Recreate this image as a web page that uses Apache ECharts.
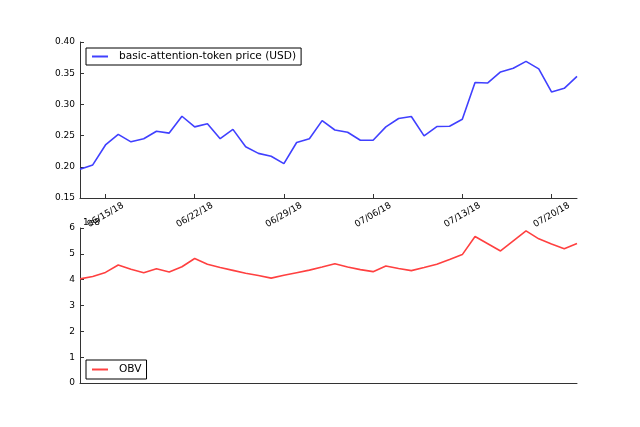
<!DOCTYPE html>
<html>
<head>
<meta charset="utf-8">
<script src="https://cdn.jsdelivr.net/npm/echarts@6/dist/echarts.min.js"></script>
<style>html,body{margin:0;padding:0;background:#fff}#c{width:640px;height:427px}</style>
</head>
<body>
<div id="c"></div>
<script>
var dates = ['06/13/18','06/14/18','06/15/18','06/16/18','06/17/18','06/18/18','06/19/18','06/20/18','06/21/18','06/22/18',
 '06/23/18','06/24/18','06/25/18','06/26/18','06/27/18','06/28/18','06/29/18','06/30/18','07/01/18','07/02/18',
 '07/03/18','07/04/18','07/05/18','07/06/18','07/07/18','07/08/18','07/09/18','07/10/18','07/11/18','07/12/18',
 '07/13/18','07/14/18','07/15/18','07/16/18','07/17/18','07/18/18','07/19/18','07/20/18','07/21/18','07/22/18'];
var price = [0.196,0.203,0.235,0.252,0.240,0.245,0.257,0.254,0.281,0.264,
 0.269,0.245,0.260,0.232,0.2215,0.217,0.205,0.239,0.245,0.274,
 0.259,0.2554,0.2425,0.2425,0.264,0.2774,0.2806,0.2495,0.2645,0.265,
 0.2763,0.335,0.3344,0.352,0.358,0.369,0.357,0.320,0.3258,0.345];
var obv = [4.03,4.12,4.28,4.57,4.40,4.27,4.42,4.30,4.50,4.82,
 4.60,4.47,4.36,4.25,4.16,4.06,4.17,4.27,4.37,4.49,
 4.62,4.49,4.39,4.31,4.53,4.43,4.35,4.47,4.60,4.78,
 4.97,5.67,5.39,5.11,5.50,5.89,5.58,5.38,5.20,5.40];
var priceName = 'basic-attention-token price (USD)';
var obvName = 'OBV';

var FONT = 'DejaVu Sans';
var axisLineStyle = {color:'#333', width:1};
function showTick(i){ return i % 7 === 2; }

var chart = echarts.init(document.getElementById('c'), null, {renderer:'canvas'});
chart.setOption({
  animation:false,
  textStyle:{fontFamily:FONT},
  grid:[
    {left:80, top:42, width:497, height:156},
    {left:80, top:228, width:497, height:155}
  ],
  legend:[
    {data:[priceName], left:86, top:48, orient:'horizontal', icon:'rect', itemWidth:16, itemHeight:2,
     padding:[3,5,3,6], borderColor:'#000', borderWidth:1, backgroundColor:'#fff',
     textStyle:{fontFamily:FONT, fontSize:10.6, color:'#000', padding:[0,0,0,6]}},
    {data:[obvName], left:86, top:360, orient:'horizontal', icon:'rect', itemWidth:16, itemHeight:2,
     padding:[4,5,4,6], borderColor:'#000', borderWidth:1, backgroundColor:'#fff',
     textStyle:{fontFamily:FONT, fontSize:10.6, color:'#000', padding:[0,0,0,6]}}
  ],
  xAxis:[
    {type:'category', gridIndex:0, data:dates, boundaryGap:false,
     axisLine:{show:true, lineStyle:axisLineStyle},
     axisTick:{show:true, inside:true, length:4, interval:function(i){return showTick(i);}, lineStyle:axisLineStyle},
     axisLabel:{show:true, interval:function(i){return showTick(i);}, rotate:30, align:'center', verticalAlign:'middle',
       margin:17, fontFamily:FONT, fontSize:9, color:'#000'},
     splitLine:{show:false}},
    {type:'category', gridIndex:1, data:dates, boundaryGap:false,
     axisLine:{show:true, lineStyle:axisLineStyle},
     axisTick:{show:false}, axisLabel:{show:false}, splitLine:{show:false}}
  ],
  yAxis:[
    {type:'value', gridIndex:0, min:0.15, max:0.40, interval:0.05,
     axisLine:{show:true, lineStyle:axisLineStyle},
     axisTick:{show:true, inside:true, length:4, lineStyle:axisLineStyle},
     axisLabel:{margin:5, fontFamily:FONT, fontSize:9, color:'#000', formatter:function(v){return v.toFixed(2);}},
     splitLine:{show:false}},
    {type:'value', gridIndex:1, min:0, max:6, interval:1,
     name:'1e8', nameLocation:'end', nameGap:1,
     nameTextStyle:{fontFamily:FONT, fontSize:9, color:'#000', align:'left', padding:[0,0,0,3]},
     axisLine:{show:true, lineStyle:axisLineStyle},
     axisTick:{show:true, inside:true, length:4, lineStyle:axisLineStyle},
     axisLabel:{margin:5, fontFamily:FONT, fontSize:9, color:'#000'},
     splitLine:{show:false}}
  ],
  series:[
    {name:priceName, type:'line', xAxisIndex:0, yAxisIndex:0, data:price, symbol:'none',
     lineStyle:{color:'#4040ff', width:1.6}, itemStyle:{color:'#4040ff'}},
    {name:obvName, type:'line', xAxisIndex:1, yAxisIndex:1, data:obv, symbol:'none',
     lineStyle:{color:'#ff4040', width:1.6}, itemStyle:{color:'#ff4040'}}
  ]
});
</script>
</body>
</html>
